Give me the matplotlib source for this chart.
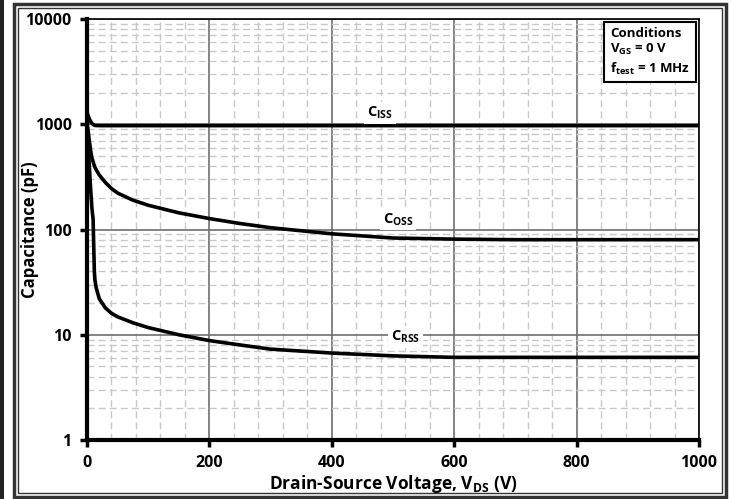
import matplotlib
matplotlib.use("Agg")
import matplotlib.pyplot as plt
from matplotlib.patches import Rectangle
from matplotlib.ticker import FixedLocator, FuncFormatter, NullFormatter

plt.rcParams['font.family'] = ['Open Sans', 'DejaVu Sans']
plt.rcParams['mathtext.fontset'] = 'custom'
plt.rcParams['mathtext.rm'] = 'Open Sans:bold'
plt.rcParams['mathtext.bf'] = 'Open Sans:bold'
plt.rcParams['mathtext.default'] = 'bf'

vds = [0, 2, 4, 6, 8, 10, 11, 12, 13, 15, 20, 30, 40, 50, 75, 100, 150, 200,
       250, 300, 400, 500, 600, 700, 800, 900, 1000]
ciss = [1300, 1200, 1120, 1060, 1020, 995, 985, 980, 975, 972, 970, 970, 970,
        970, 970, 970, 970, 970, 970, 970, 970, 970, 970, 970, 970, 970, 970]
coss = [1050, 850, 680, 560, 480, 440, 420, 405, 390, 370, 330, 280, 245, 222,
        190, 170, 144, 127, 114, 104, 91, 83, 81, 80, 80, 80, 80]
crss = [1000, 600, 380, 240, 160, 125, 70, 40, 33, 28, 22, 18, 16, 14.8,
        13, 11.7, 10, 8.8, 8.0, 7.3, 6.7, 6.3, 6.1, 6.1, 6.1, 6.1, 6.1]

labels = [r'C$_{ISS}$', r'C$_{OSS}$', r'C$_{RSS}$']
label_x = [479, 508, 520]
label_y = [1290, 125, 9.6]

x_ticks = [0, 200, 400, 600, 800, 1000]
y_ticks = [1, 10, 100, 1000, 10000]

fig = plt.figure(figsize=(7.31, 4.99), dpi=100)
ax = fig.add_axes([87 / 731, 59 / 499, 612 / 731, 421 / 499])

ax.set_yscale('log')
ax.set_xlim(0, 1000)
ax.set_ylim(1, 10000)

ax.xaxis.set_major_locator(FixedLocator(x_ticks))
ax.xaxis.set_minor_locator(FixedLocator([v for v in range(0, 1001, 40) if v % 200]))
ax.yaxis.set_major_locator(FixedLocator(y_ticks))
ax.yaxis.set_minor_locator(FixedLocator([m * 10 ** d for d in range(4) for m in range(2, 10)]))
ax.yaxis.set_major_formatter(FuncFormatter(lambda v, p: '%d' % v))
ax.yaxis.set_minor_formatter(NullFormatter())

ax.grid(which='minor', color='#c8c8c8', linestyle=(0, (5, 3)), linewidth=1.0)
ax.grid(which='major', color='#6e6e6e', linestyle='-', linewidth=1.2)
ax.tick_params(which='minor', length=0)
ax.tick_params(which='major', direction='out', length=5, width=2.5, color='black',
               labelsize=11.5, pad=6)
for lab in ax.get_xticklabels() + ax.get_yticklabels():
    lab.set_fontweight('bold')

for s in ['left', 'bottom']:
    ax.spines[s].set_linewidth(3)
for s in ['top', 'right']:
    ax.spines[s].set_linewidth(1.2)

for c in [ciss, coss, crss]:
    ax.plot(vds, c, color='black', linewidth=2.6, solid_capstyle='butt', zorder=3)

for t, x, y in zip(labels, label_x, label_y):
    ax.text(x, y, t, ha='center', va='center', fontsize=10.5, fontweight='bold',
            bbox=dict(facecolor='white', edgecolor='none', pad=2), zorder=4)

ax.text(0.855, 0.982, 'Conditions\n' + r'V$_{GS}$ = 0 V' + '\n' + r'f$_{test}$ = 1 MHz',
        transform=ax.transAxes, ha='left', va='top', fontsize=9.5, fontweight='bold',
        linespacing=1.25, zorder=5,
        bbox=dict(facecolor='white', edgecolor='black', linewidth=1.5,
                  boxstyle='square,pad=0.45'))

ax.set_xlabel(r'Drain-Source Voltage, V$_{DS}$ (V)', fontsize=12.5, fontweight='bold',
              labelpad=1)
ax.set_ylabel('Capacitance (pF)', fontsize=12, fontweight='bold')
ax.yaxis.set_label_coords(-0.078, 0.5)

# picture frame
fig.patches.append(Rectangle((14 / 731, 2 / 499), 712 / 731, 493 / 499,
                             transform=fig.transFigure, fill=False,
                             edgecolor='#333333', linewidth=2.5))
fig.patches.append(Rectangle((18 / 731, 6 / 499), 704 / 731, 485 / 499,
                             transform=fig.transFigure, fill=False,
                             edgecolor='#333333', linewidth=1.0))
fig.patches.append(Rectangle((0, 0), 4 / 731, 1, transform=fig.transFigure,
                             facecolor='#222222', edgecolor='none'))

fig.savefig('out.png', dpi=100)
